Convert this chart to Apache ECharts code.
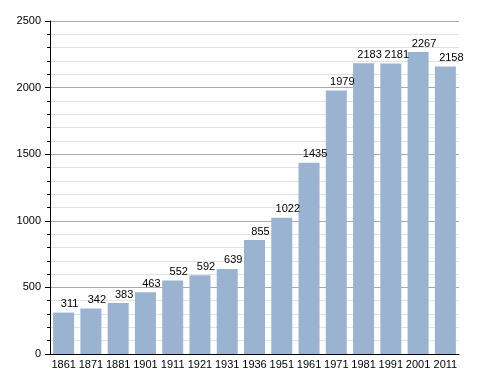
<!DOCTYPE html>
<html><head><meta charset="utf-8">
<script src="https://cdn.jsdelivr.net/npm/echarts@6/dist/echarts.min.js"></script>
<style>html,body{margin:0;padding:0;background:#fff}#c{width:488px;height:373px}</style>
</head><body><div id="c"></div>
<script>
const years = ['1861','1871','1881','1901','1911','1921','1931','1936','1951','1961','1971','1981','1991','2001','2011'];
const population = [311,342,383,463,552,592,639,855,1022,1435,1979,2183,2181,2267,2158];
const yTicks = [0,500,1000,1500,2000,2500];

const chart = echarts.init(document.getElementById('c'));
chart.setOption({
  animation: false,
  grid: {left: 50, top: 21, right: 29, bottom: 19, containLabel: false},
  xAxis: {
    type: 'category', data: years,
    axisLine: {lineStyle: {color: '#000', width: 1}},
    axisTick: {show: false},
    axisLabel: {interval: 0, color: '#000', fontFamily: 'Liberation Sans, Arial', fontSize: 11, margin: 5}
  },
  yAxis: {
    type: 'value', min: yTicks[0], max: yTicks[yTicks.length-1], interval: 500,
    axisLine: {show: true, lineStyle: {color: '#000', width: 1}},
    axisTick: {show: true, inside: false, length: 5, lineStyle: {color: '#000'}},
    minorTick: {show: true, splitNumber: 5, length: 3, lineStyle: {color: '#000'}},
    splitLine: {show: true, lineStyle: {color: '#aaa', width: 1}},
    minorSplitLine: {show: true, lineStyle: {color: '#e2e2e2', width: 1}},
    axisLabel: {formatter: v => String(v), color: '#000', fontFamily: 'Liberation Sans, Arial', fontSize: 11, margin: 9}
  },
  series: [{
    type: 'bar', data: population, barCategoryGap: '23%',
    itemStyle: {color: '#9ab3d0'},
    label: {show: true, position: 'top', offset: [6, 0], distance: 3, color: '#000', fontFamily: 'Liberation Sans, Arial', fontSize: 11}
  }]
});
</script></body></html>
